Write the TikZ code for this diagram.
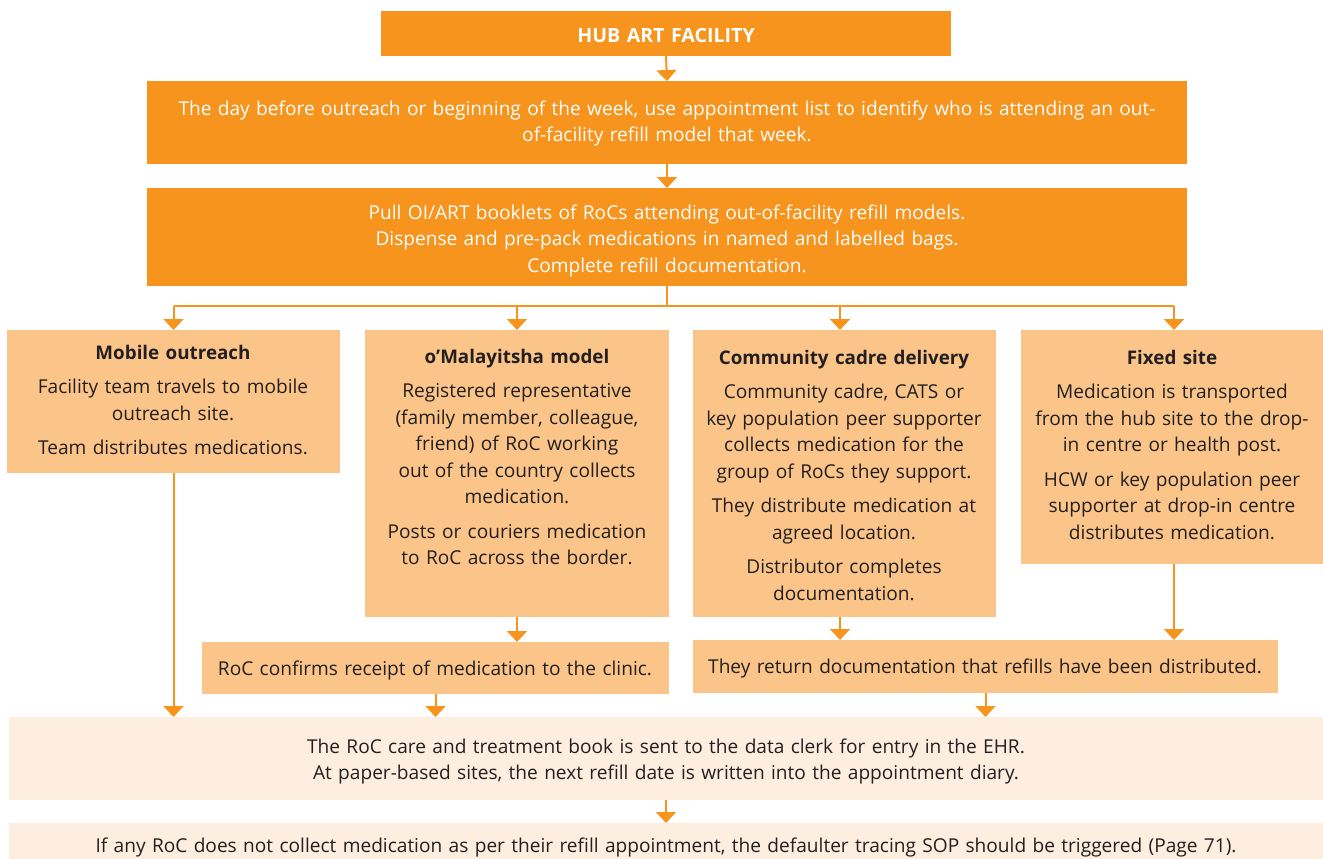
\documentclass[tikz,border=0pt]{standalone}
\usepackage{fontspec}
\setmainfont{Open Sans}
\usetikzlibrary{arrows.meta}
\definecolor{dor}{HTML}{F7941D}
\definecolor{lor}{HTML}{FBC58A}
\definecolor{vlor}{HTML}{FDEEDF}
\definecolor{ink}{HTML}{231F20}
\newcommand\mkbox[6]{\pgfmathsetmacro\bxw{(#5-#3)*0.5}\pgfmathsetmacro\bxh{(#6-#4)*0.5}\node[#2,minimum width=\bxw pt,minimum height=\bxh pt,anchor=north west] (#1) at (#3,#4) {};}
\newcommand\ttl[1]{{\fontsize{9.4}{13.25}\selectfont\bfseries #1}}
\tikzset{
  boxbase/.style={inner sep=0pt, outer sep=0pt, draw=none},
  dbox/.style={boxbase, fill=dor},
  lbox/.style={boxbase, fill=lor},
  pbox/.style={boxbase, fill=vlor},
  txt/.style={anchor=base, text width=640pt, align=center, inner sep=0pt, font=\fontsize{9.55}{13.25}\selectfont, text=ink},
  wtxt/.style={txt, text=white},
  arr/.style={draw=dor, line width=1pt, -{Triangle[width=10pt,length=5.5pt]}},
  ln/.style={draw=dor, line width=1pt}
}
\begin{document}
\begin{tikzpicture}[x=0.5pt,y=-0.5pt]
\useasboundingbox (0,0) rectangle (1323,858);
% boxes
\mkbox{hub}{dbox}{381}{11}{951}{56}
\mkbox{b2}{dbox}{147}{81}{1187}{164}
\mkbox{b3}{dbox}{147}{188}{1187}{286}
\mkbox{mob}{lbox}{7}{330}{340}{473}
\mkbox{oma}{lbox}{365}{330}{669}{617}
\mkbox{com}{lbox}{693}{330}{996}{617}
\mkbox{fix}{lbox}{1021}{330}{1323}{564}
\mkbox{roc}{lbox}{202}{642}{669}{694}
\mkbox{ret}{lbox}{693}{640}{1278}{693}
\mkbox{big}{pbox}{9}{717}{1323}{800}
\mkbox{last}{pbox}{9}{823}{1323}{870}
% texts
\node[wtxt, font=\fontsize{9.8}{13.25}\selectfont\bfseries] (thub) at (666,42) {HUB ART FACILITY};
\node[wtxt] (tb2) at (667,115) {The day before outreach or beginning of the week, use appointment list to identify who is attending an out-\\of-facility refill model that week.};
\node[wtxt] (tb3) at (667,219) {Pull OI/ART booklets of RoCs attending out-of-facility refill models.\\Dispense and pre-pack medications in named and labelled bags.\\Complete refill documentation.};
\node[txt] (tmob) at (173,359) {\ttl{Mobile outreach}\\[4pt]Facility team travels to mobile\\outreach site.\\[4pt]Team distributes medications.};
\node[txt] (toma) at (517,363) {\ttl{o’Malayitsha model}\\[4pt]Registered representative\\(family member, colleague,\\friend) of RoC working\\out of the country collects\\medication.\\[4pt]Posts or couriers medication\\to RoC across the border.};
\node[txt] (tcom) at (844,364) {\ttl{Community cadre delivery}\\[4pt]Community cadre, CATS or\\key population peer supporter\\collects medication for the\\group of RoCs they support.\\[4pt]They distribute medication at\\agreed location.\\[4pt]Distributor completes\\documentation.};
\node[txt] (tfix) at (1172,364) {\ttl{Fixed site}\\[4pt]Medication is transported\\from the hub site to the drop-\\in centre or health post.\\[4pt]HCW or key population peer\\supporter at drop-in centre\\distributes medication.};
\node[txt] (troc) at (435,675) {RoC confirms receipt of medication to the clinic.};
\node[txt] (tret) at (985,673) {They return documentation that refills have been distributed.};
\node[txt] (tbig) at (666,753) {The RoC care and treatment book is sent to the data clerk for entry in the EHR.\\At paper-based sites, the next refill date is written into the appointment diary.};
\node[txt] (tlast) at (666,852) {If any RoC does not collect medication as per their refill appointment, the defaulter tracing SOP should be triggered (Page 71).};
% connectors
\draw[arr] (hub.south) -- (b2.north);
\draw[arr] (b2.south) -- (b3.north);
\coordinate (br) at (667,306);
\draw[ln] (b3.south) -- (br);
\draw[ln] (mob.north |- br) -- ([xshift=1pt]fix.north |- br);
\draw[arr] (mob.north |- br) -- (mob.north);
\draw[arr] (oma.north |- br) -- (oma.north);
\draw[arr] ([xshift=-2.25pt]com.north |- br) -- ([xshift=-2.25pt]com.north);
\draw[arr] ([xshift=1pt]fix.north |- br) -- ([xshift=1pt]fix.north);
\draw[arr] (mob.south) -- (mob.south |- big.north);
\draw[arr] (oma.south) -- (oma.south |- roc.north);
\draw[arr] (roc.south) -- (roc.south |- big.north);
\draw[arr] ([xshift=-2.25pt]com.south) -- ([xshift=-2.25pt]com.south |- ret.north);
\draw[arr] ([xshift=1pt]fix.south) -- ([xshift=1pt]fix.south |- ret.north);
\draw[arr] (ret.south) -- (ret.south |- big.north);
\draw[arr] (big.south) -- (last.north);
\end{tikzpicture}
\end{document}
